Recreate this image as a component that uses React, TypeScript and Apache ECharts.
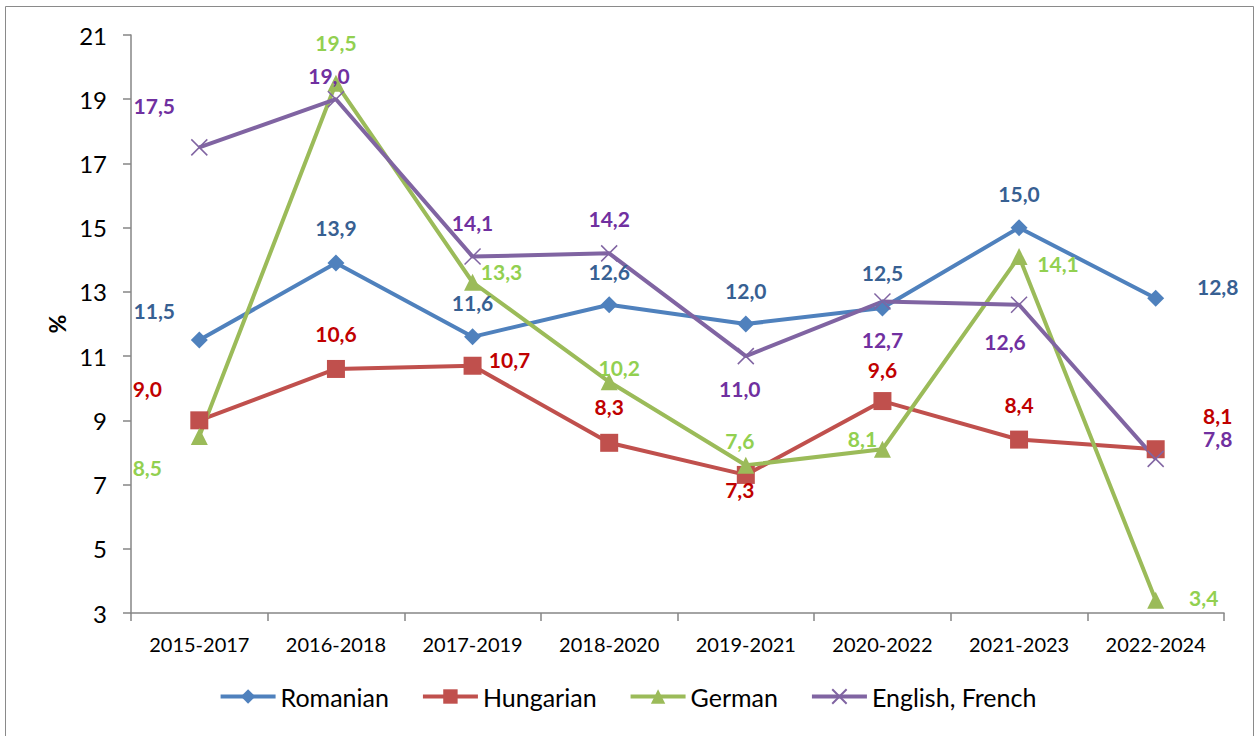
import React, { useEffect, useRef } from "react";
import * as echarts from "echarts";

const categories = ["2015-2017", "2016-2018", "2017-2019", "2018-2020", "2019-2021", "2020-2022", "2021-2023", "2022-2024"];
const romanian = [11.5, 13.9, 11.6, 12.6, 12.0, 12.5, 15.0, 12.8];
const hungarian = [9.0, 10.6, 10.7, 8.3, 7.3, 9.6, 8.4, 8.1];
const german = [8.5, 19.5, 13.3, 10.2, 7.6, 8.1, 14.1, 3.4];
const englishFrench = [17.5, 19.0, 14.1, 14.2, 11.0, 12.7, 12.6, 7.8];
const yTicks = { min: 3, max: 21, interval: 2 };

// label offsets (layout only)
const romOffsets = [[-45, -30], [0, -35], [0, -34], [0, -33], [0, -34], [0, -35], [0, -34], [62, -12]];
const hunOffsets = [[-52, -32], [0, -35], [37, -6], [0, -36], [-6, 15], [0, -32], [0, -35], [62, -34]];
const gerOffsets = [[-52, 31], [0, -41], [29, -11], [10, -14], [-6, -25], [-20, -11], [39, 7], [48, -3]];
const engOffsets = [[-45, -42], [-7, -24], [0, -34], [0, -35], [-6, 32], [0, 38], [-14, 37], [62, -20]];

const FONT = "Lato, 'Liberation Sans', sans-serif";

function makeSeries(name: string, values: number[], offsets: number[][], lineColor: string, labelColor: string, symbol: string, symbolSize: number, extraItem: any = {}) {
  return {
    name,
    type: "line",
    data: values.map((v, i) => ({
      value: v,
      label: { offset: offsets[i] },
    })),
    symbol,
    symbolSize,
    lineStyle: { color: lineColor, width: 4 },
    itemStyle: { color: lineColor, ...extraItem },
    label: {
      show: true,
      position: "inside",
      color: labelColor,
      fontFamily: FONT,
      fontWeight: "bold",
      fontSize: 21,
      formatter: (p: any) => Number(p.value).toFixed(1).replace(".", ","),
    },
    emphasis: { disabled: true },
  };
}

export default function App() {
  const ref = useRef<HTMLDivElement>(null);
  useEffect(() => {
    document.body.style.margin = "0";
    const chart = echarts.init(ref.current!, null, { renderer: "svg" });
    chart.setOption({
      animation: false,
      backgroundColor: "#ffffff",
      graphic: [
        {
          type: "rect",
          shape: { x: 5.5, y: 6.5, width: 1248, height: 740 },
          style: { fill: "none", stroke: "#8a8a8a", lineWidth: 1 },
          silent: true,
        },
      ],
      grid: { left: 131, right: 31, top: 35, bottom: 123, containLabel: false },
      legend: {
        bottom: 22,
        left: "center",
        itemWidth: 55,
        itemHeight: 18,
        itemGap: 32,
        lineStyle: { width: 4 },
        textStyle: { fontFamily: FONT, fontSize: 25, color: "#000" },
        data: ["Romanian", "Hungarian", "German", "English, French"],
      },
      xAxis: {
        type: "category",
        data: categories,
        boundaryGap: true,
        axisLine: { lineStyle: { color: "#868686", width: 1.5 } },
        axisTick: { show: true, length: 8, alignWithLabel: false, lineStyle: { color: "#868686", width: 1.5 } },
        axisLabel: { fontFamily: FONT, fontSize: 20, color: "#000", margin: 21 },
        splitLine: { show: false },
      },
      yAxis: {
        type: "value",
        min: yTicks.min,
        max: yTicks.max,
        interval: yTicks.interval,
        name: "%",
        nameLocation: "middle",
        nameGap: 63,
        nameRotate: 90,
        nameTextStyle: { fontFamily: FONT, fontSize: 23, fontWeight: "bold", color: "#000" },
        axisLine: { show: true, lineStyle: { color: "#868686", width: 1.5 } },
        axisTick: { show: true, length: 8, lineStyle: { color: "#868686", width: 1.5 } },
        axisLabel: { fontFamily: FONT, fontSize: 24, color: "#000", margin: 24 },
        splitLine: { show: false },
      },
      series: [
        makeSeries("Romanian", romanian, romOffsets, "#4F81BD", "#376092", "diamond", 17),
        makeSeries("Hungarian", hungarian, hunOffsets, "#C0504D", "#C00000", "rect", 18),
        makeSeries("German", german, gerOffsets, "#9BBB59", "#92D050", "triangle", 17),
        makeSeries("English, French", englishFrench, engOffsets, "#8064A2", "#7030A0", "path://M0,0L10,10M10,0L0,10", 16, { borderColor: "#8064A2", borderWidth: 1.5 }),
      ],
    });
    return () => chart.dispose();
  }, []);
  return <div ref={ref} style={{ position: "absolute", left: 0, top: 0, width: 1255, height: 736 }} />;
}
